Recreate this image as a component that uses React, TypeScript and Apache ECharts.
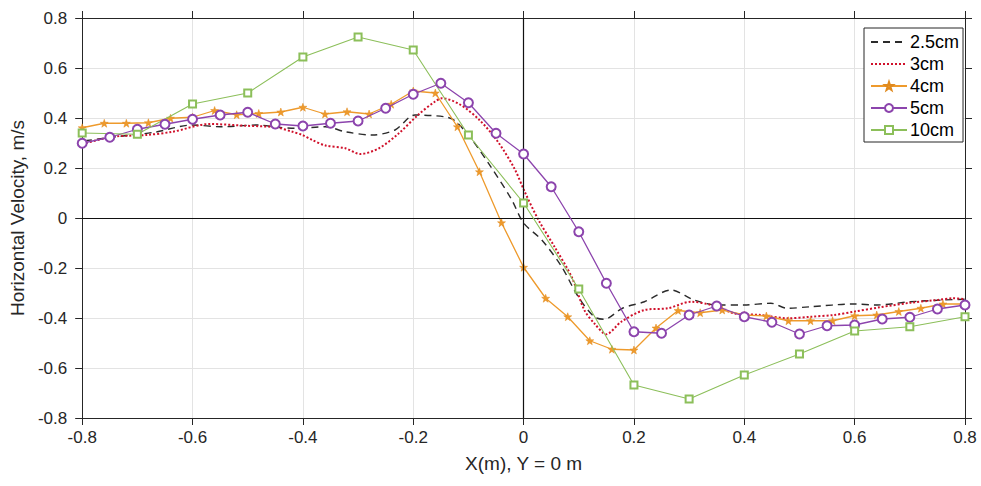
import React, { useEffect, useRef } from "react";
import * as echarts from "echarts";

// ---- data ----
const xTicks = [-0.8, -0.6, -0.4, -0.2, 0, 0.2, 0.4, 0.6, 0.8];

const x25 = [-0.795, -0.739, -0.669, -0.6, -0.549, -0.482, -0.446, -0.414, -0.359, -0.323, -0.274, -0.233, -0.197, -0.143, -0.125, -0.094, -0.058, -0.022, 0, 0.033, 0.069, 0.099, 0.128, 0.146, 0.18, 0.219, 0.267, 0.309, 0.352, 0.4, 0.448, 0.478, 0.52, 0.598, 0.641, 0.701, 0.761, 0.8];
const y25 = [0.309, 0.325, 0.343, 0.372, 0.365, 0.372, 0.363, 0.359, 0.365, 0.345, 0.332, 0.352, 0.412, 0.405, 0.39, 0.315, 0.2, 0.075, -0.02, -0.088, -0.195, -0.315, -0.395, -0.405, -0.36, -0.335, -0.288, -0.328, -0.348, -0.348, -0.341, -0.361, -0.355, -0.344, -0.348, -0.335, -0.328, -0.325];

const x3 = [-0.8, -0.744, -0.684, -0.636, -0.569, -0.504, -0.45, -0.419, -0.401, -0.383, -0.359, -0.323, -0.296, -0.262, -0.226, -0.19, -0.161, -0.148, -0.116, -0.079, -0.045, -0.016, 0.002, 0.027, 0.056, 0.087, 0.11, 0.128, 0.15, 0.177, 0.219, 0.262, 0.303, 0.34, 0.381, 0.43, 0.479, 0.52, 0.562, 0.598, 0.646, 0.701, 0.749, 0.778, 0.8];
const y3 = [0.296, 0.325, 0.332, 0.345, 0.376, 0.369, 0.363, 0.345, 0.332, 0.312, 0.29, 0.279, 0.256, 0.279, 0.339, 0.415, 0.465, 0.479, 0.455, 0.39, 0.3, 0.195, 0.105, -0.008, -0.115, -0.235, -0.368, -0.421, -0.465, -0.415, -0.368, -0.361, -0.335, -0.348, -0.381, -0.388, -0.401, -0.395, -0.388, -0.375, -0.357, -0.339, -0.328, -0.321, -0.325];

const x4 = [-0.8, -0.76, -0.72, -0.68, -0.64, -0.6, -0.56, -0.52, -0.48, -0.44, -0.4, -0.36, -0.32, -0.28, -0.24, -0.2, -0.16, -0.12, -0.08, -0.04, 0, 0.04, 0.08, 0.12, 0.16, 0.2, 0.24, 0.28, 0.32, 0.36, 0.4, 0.44, 0.48, 0.52, 0.56, 0.6, 0.64, 0.68, 0.72, 0.76, 0.8];
const y4 = [0.361, 0.379, 0.379, 0.381, 0.399, 0.403, 0.43, 0.413, 0.418, 0.424, 0.443, 0.416, 0.425, 0.416, 0.455, 0.508, 0.5, 0.365, 0.185, -0.019, -0.197, -0.321, -0.395, -0.491, -0.525, -0.528, -0.44, -0.37, -0.379, -0.368, -0.388, -0.392, -0.411, -0.411, -0.411, -0.391, -0.388, -0.374, -0.361, -0.344, -0.344];

const x5 = [-0.8, -0.75, -0.7, -0.65, -0.6, -0.55, -0.5, -0.45, -0.4, -0.35, -0.3, -0.25, -0.2, -0.15, -0.1, -0.05, 0, 0.05, 0.1, 0.15, 0.2, 0.25, 0.3, 0.35, 0.4, 0.45, 0.5, 0.55, 0.6, 0.65, 0.7, 0.75, 0.8];
const y5 = [0.299, 0.323, 0.355, 0.375, 0.395, 0.412, 0.423, 0.376, 0.368, 0.379, 0.388, 0.439, 0.495, 0.539, 0.461, 0.339, 0.256, 0.125, -0.055, -0.261, -0.455, -0.461, -0.388, -0.352, -0.395, -0.417, -0.464, -0.431, -0.428, -0.404, -0.397, -0.364, -0.348];

const x10 = [-0.8, -0.7, -0.6, -0.5, -0.4, -0.3, -0.2, -0.1, 0, 0.1, 0.2, 0.3, 0.4, 0.5, 0.6, 0.7, 0.8];
const y10 = [0.34, 0.335, 0.456, 0.5, 0.644, 0.724, 0.672, 0.332, 0.06, -0.284, -0.668, -0.724, -0.628, -0.544, -0.452, -0.435, -0.395];

const seriesNames = ["2.5cm", "3cm", "4cm", "5cm", "10cm"];

const zip = (xs: number[], ys: number[]) => xs.map((x, i) => [x, ys[i]]);

const STAR =
  "path://M0,-10 L2.35,-3.24 L9.51,-3.09 L3.8,1.24 L5.88,8.09 L0,4 L-5.88,8.09 L-3.8,1.24 L-9.51,-3.09 L-2.35,-3.24 Z";

const AX = "#262626";
const FONT = "'Liberation Sans', Arial, sans-serif";

export default function App() {
  const ref = useRef<HTMLDivElement>(null);
  useEffect(() => {
    if (!ref.current) return;
    const chart = echarts.init(ref.current, undefined, { renderer: "svg" });
    const hiddenAxis = {
      type: "value" as const,
      min: -0.8,
      max: 0.8,
      interval: 0.2,
      axisLine: { show: true, onZero: false, lineStyle: { color: AX, width: 1 } },
      axisTick: { show: true, inside: false, length: 7, lineStyle: { color: AX } },
      axisLabel: { show: false },
      splitLine: { show: false },
    };
    chart.setOption({
      animation: false,
      backgroundColor: "#ffffff",
      textStyle: { fontFamily: FONT },
      grid: { left: 79, right: 16, top: 18, bottom: 68 },
      legend: {
        data: seriesNames,
        orient: "vertical",
        left: 864,
        top: 28,
        padding: [5, 4, 3, 6],
        itemWidth: 36,
        itemHeight: 10,
        itemGap: 4,
        backgroundColor: "#ffffff",
        borderColor: AX,
        borderWidth: 1,
        borderRadius: 0,
        textStyle: { fontSize: 18, color: "#000", fontFamily: FONT, padding: [0, 0, 0, -2] },
      },
      xAxis: [
        {
          type: "value",
          min: -0.8,
          max: 0.8,
          interval: 0.2,
          name: "X(m), Y = 0 m",
          nameLocation: "middle",
          nameGap: 36,
          nameTextStyle: { fontSize: 19, color: AX, fontFamily: FONT },
          axisLine: { show: true, onZero: false, lineStyle: { color: AX, width: 1 } },
          axisTick: { show: true, inside: false, length: 7, lineStyle: { color: AX } },
          axisLabel: { fontSize: 17, color: AX, margin: 11, fontFamily: FONT },
          splitLine: { show: true, lineStyle: { color: "#e3e3e3", width: 1 } },
        },
        { ...hiddenAxis, position: "top" },
      ],
      yAxis: [
        {
          type: "value",
          min: -0.8,
          max: 0.8,
          interval: 0.2,
          name: "Horizontal Velocity, m/s",
          nameLocation: "middle",
          nameGap: 52,
          nameTextStyle: { fontSize: 19, color: AX, fontFamily: FONT },
          axisLine: { show: true, onZero: false, lineStyle: { color: AX, width: 1 } },
          axisTick: { show: true, inside: false, length: 7, lineStyle: { color: AX } },
          axisLabel: { fontSize: 17, color: AX, margin: 15, fontFamily: FONT },
          splitLine: { show: true, lineStyle: { color: "#e3e3e3", width: 1 } },
        },
        { ...hiddenAxis, position: "right" },
      ],
      series: [
        {
          name: "2.5cm",
          type: "line",
          data: zip(x25, y25),
          symbol: "none",
          smooth: 0.3,
          z: 3,
          lineStyle: { color: "#2b2b2b", width: 1.4, type: [7, 5] },
          itemStyle: { color: "#2b2b2b", opacity: 0 },
          markLine: {
            silent: true,
            symbol: "none",
            label: { show: false },
            lineStyle: { color: "#111111", width: 1.2, type: "solid", opacity: 1 },
            data: [{ xAxis: 0 }, { yAxis: 0 }],
          },
        },
        {
          name: "3cm",
          type: "line",
          data: zip(x3, y3),
          symbol: "none",
          smooth: 0.3,
          z: 3,
          lineStyle: { color: "#d0112b", width: 2, type: [2, 2] },
          itemStyle: { color: "#d0112b", opacity: 0 },
        },
        {
          name: "4cm",
          type: "line",
          data: zip(x4, y4),
          symbol: STAR,
          symbolSize: 8,
          showAllSymbol: true,
          z: 4,
          lineStyle: { color: "#ee9a2c", width: 1.3 },
          itemStyle: { color: "#ee9a2c", borderColor: "#e08a1e", borderWidth: 0.5 },
        },
        {
          name: "5cm",
          type: "line",
          data: zip(x5, y5),
          symbol: "emptyCircle",
          symbolSize: 9,
          showAllSymbol: true,
          z: 5,
          lineStyle: { color: "#8c44ad", width: 1.3 },
          itemStyle: { color: "#8c44ad", borderWidth: 1.2 },
        },
        {
          name: "10cm",
          type: "line",
          data: zip(x10, y10),
          symbol: "emptyRect",
          symbolSize: 7,
          showAllSymbol: true,
          z: 5,
          lineStyle: { color: "#8cbf5a", width: 1.1 },
          itemStyle: { color: "#8cbf5a", borderWidth: 1 },
        },
      ],
    });
    return () => chart.dispose();
  }, []);
  return <div ref={ref} style={{ width: 981, height: 486, position: "absolute", left: 0, top: 0 }} />;
}
